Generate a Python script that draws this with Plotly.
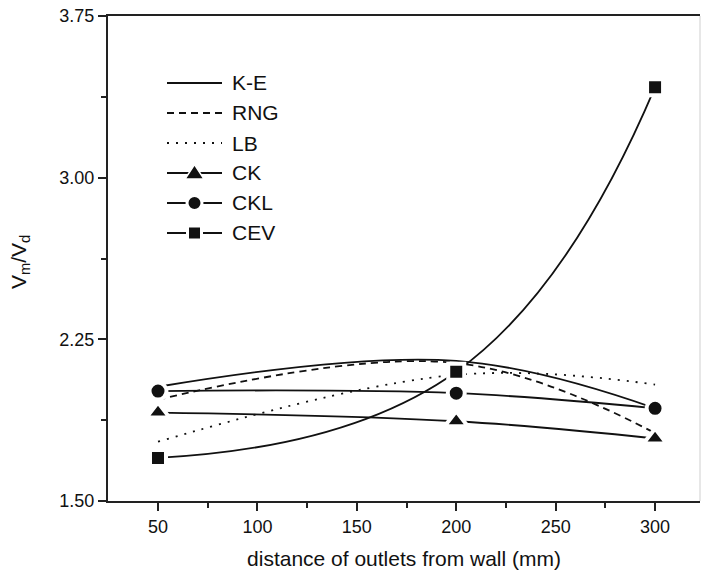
import plotly.graph_objects as go

# Distance of outlets from the wall (mm)
distance = [50, 200, 300]

# Vm/Vd for each turbulence model
ke = [2.03, 2.15, 1.93]
rng = [1.97, 2.14, 1.815]
lb = [1.775, 2.085, 2.04]
ck = [1.91, 1.87, 1.79]
ckl = [2.01, 2.00, 1.93]
cev = [1.70, 2.10, 3.42]

x_ticks = [50, 100, 150, 200, 250, 300]
y_ticks = [1.50, 2.25, 3.00, 3.75]

W, H = 702, 579
ML, MR, MT, MB = 108, 2, 16, 78
PW, PH = W - ML - MR, H - MT - MB

FONT = "Liberation Sans, Arial, sans-serif"
INK = "#111111"

series = [
    ("K-E", ke, "solid", None),
    ("RNG", rng, "7px,5px", None),
    ("LB", lb, "2px,7px", None),
    ("CK", ck, "solid", "triangle-up"),
    ("CKL", ckl, "solid", "circle"),
    ("CEV", cev, "solid", "square"),
]
marker_size = {"triangle-up": 20, "circle": 17, "square": 16}
smooth = {"CEV": 1.3}

fig = go.Figure()
for name, vals, dash, sym in series:
    kw = dict(
        x=distance, y=vals, name=name, showlegend=False,
        line=dict(color=INK, width=1.8, dash=dash, shape="spline",
                  smoothing=smooth.get(name, 1.1)),
    )
    if sym:
        kw["mode"] = "lines+markers"
        kw["marker"] = dict(symbol=sym, size=marker_size[sym], color=INK,
                            line=dict(color="white", width=4))
    else:
        kw["mode"] = "lines"
    fig.add_trace(go.Scatter(**kw))


def px(xp):
    return (xp - ML) / PW


def py(yp):
    return 1 - (yp - MT) / PH


# Hand-built key in the upper-left corner of the plot
shapes = []
annotations = []
key_x0, key_x1, key_text = 167, 222, 230
key_mid = (key_x0 + key_x1) / 2
for i, (name, vals, dash, sym) in enumerate(series):
    yc = 83 + 30 * i
    shapes.append(dict(type="line", xref="paper", yref="paper",
                       x0=px(key_x0), x1=px(key_x1), y0=py(yc), y1=py(yc),
                       line=dict(color=INK, width=1.8, dash=dash)))
    if sym == "circle":
        r = 7.5
        shapes.append(dict(type="circle", xref="paper", yref="paper",
                           x0=px(key_mid - r), x1=px(key_mid + r),
                           y0=py(yc + r), y1=py(yc - r),
                           fillcolor=INK, line=dict(color="white", width=3)))
    elif sym == "square":
        r = 7
        shapes.append(dict(type="rect", xref="paper", yref="paper",
                           x0=px(key_mid - r), x1=px(key_mid + r),
                           y0=py(yc + r), y1=py(yc - r),
                           fillcolor=INK, line=dict(color="white", width=3)))
    elif sym == "triangle-up":
        hw, top, base = 9.5, 8.5, 6
        path = "M {:.5f} {:.5f} L {:.5f} {:.5f} L {:.5f} {:.5f} Z".format(
            px(key_mid - hw), py(yc + base),
            px(key_mid + hw), py(yc + base),
            px(key_mid), py(yc - top))
        shapes.append(dict(type="path", xref="paper", yref="paper", path=path,
                           fillcolor=INK, line=dict(color="white", width=1.5)))
    annotations.append(dict(text=name, xref="paper", yref="paper",
                            x=px(key_text), y=py(yc), xanchor="left", yanchor="middle",
                            showarrow=False, font=dict(family=FONT, size=21, color=INK)))

# faint right-hand frame edge
shapes.append(dict(type="line", xref="paper", yref="paper", x0=1, x1=1, y0=0, y1=1,
                   line=dict(color="#cfcfcf", width=1)))

# y-axis title
annotations.append(dict(text="V<sub>m</sub>/V<sub>d</sub>", xref="paper", yref="paper",
                        x=px(20), y=py(262), xanchor="center", yanchor="middle",
                        textangle=-90, showarrow=False,
                        font=dict(family=FONT, size=21, color=INK)))

fig.update_layout(
    width=W, height=H,
    margin=dict(l=ML, r=MR, t=MT, b=MB, pad=0),
    paper_bgcolor="white", plot_bgcolor="white",
    font=dict(family=FONT, color=INK),
    shapes=shapes, annotations=annotations,
    xaxis=dict(
        range=[24.85, 322.6], tickvals=x_ticks, ticktext=[str(v) for v in x_ticks],
        showgrid=False, zeroline=False, showline=True, linecolor="#222222", linewidth=2,
        mirror=True, ticks="outside", ticklen=8, tickwidth=2, tickcolor="#222222",
        tickfont=dict(family=FONT, size=18, color=INK),
        minor=dict(tickvals=[75, 125, 175, 225, 275], ticks="outside", ticklen=5,
                   tickwidth=2, tickcolor="#222222"),
        title=dict(text="distance of outlets from wall (mm)", standoff=16,
                   font=dict(family=FONT, size=21, color=INK)),
    ),
    yaxis=dict(
        range=[1.5, 3.75], tickvals=y_ticks, ticktext=["%.2f" % v for v in y_ticks],
        showgrid=False, zeroline=False, showline=True, linecolor="#222222", linewidth=2,
        ticks="outside", ticklen=8, tickwidth=2, tickcolor="#222222",
        tickfont=dict(family=FONT, size=18, color=INK),
        minor=dict(tickvals=[1.875, 2.625, 3.375], ticks="outside", ticklen=5,
                   tickwidth=2, tickcolor="#222222"),
    ),
)

fig.write_html("out.html")
